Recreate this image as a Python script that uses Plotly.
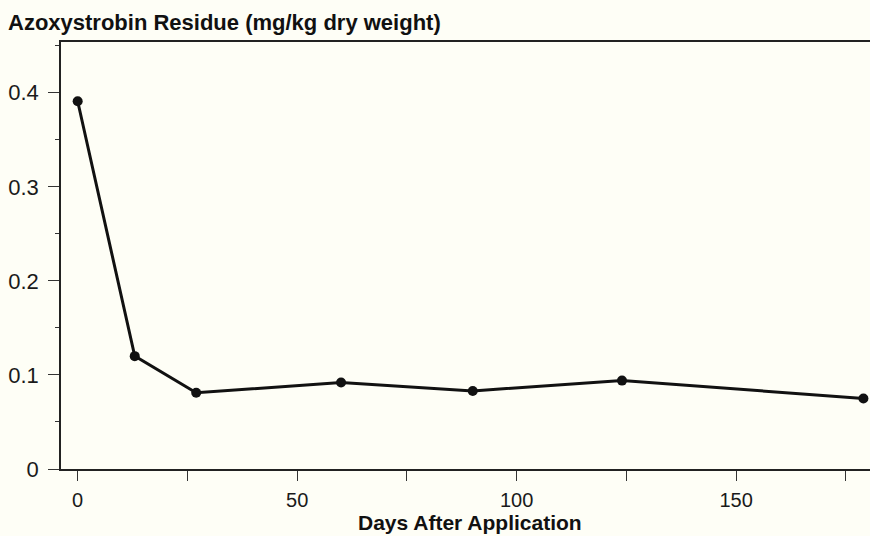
import plotly.graph_objects as go

# Azoxystrobin residue in soil over time
days = [0, 13, 27, 60, 90, 124, 179]
residue = [0.391, 0.120, 0.081, 0.092, 0.083, 0.094, 0.075]

x_tick_vals = [0, 25, 50, 75, 100, 125, 150, 175]
x_tick_text = ["0", "", "50", "", "100", "", "150", ""]
y_tick_vals = [0, 0.1, 0.2, 0.3, 0.4]
y_tick_text = ["0", "0.1", "0.2", "0.3", "0.4"]

W, H = 870, 536
L, R, T, B = 61, 0, 42, 67
bg = "#fefef6"
font = "Liberation Sans, Arial, sans-serif"

fig = go.Figure()
fig.add_trace(go.Scatter(
    x=days, y=residue, mode="lines+markers",
    line=dict(color="#111111", width=3),
    marker=dict(color="#111111", size=10),
    showlegend=False, cliponaxis=False,
))

fig.update_layout(
    width=W, height=H,
    margin=dict(l=L, r=R, t=T, b=B, pad=0),
    paper_bgcolor=bg, plot_bgcolor=bg,
    font=dict(family=font, color="#1a1a1a", size=21),
    title=dict(
        text="<b>Azoxystrobin Residue (mg/kg dry weight)</b>",
        x=8 / W, xanchor="left", y=1 - 22 / H, yanchor="middle",
        font=dict(family=font, size=22, color="#111111"),
    ),
    xaxis=dict(
        range=[-3.8, 180.5], showgrid=False, zeroline=False,
        showline=True, linecolor="#222222", linewidth=1.5, mirror=True,
        ticks="outside", ticklen=10, tickcolor="#333333", tickwidth=1.2,
        tickvals=x_tick_vals, ticktext=x_tick_text,
        tickfont=dict(family=font, size=20, color="#1a1a1a"),
        ticklabelstandoff=2,
    ),
    yaxis=dict(
        range=[0, 0.454], showgrid=False, zeroline=False,
        showline=True, linecolor="#222222", linewidth=1.5,
        ticks="outside", ticklen=11, tickcolor="#333333", tickwidth=1.2,
        tickvals=y_tick_vals, ticktext=y_tick_text,
        tickfont=dict(family=font, size=22, color="#1a1a1a"),
        ticklabelstandoff=5,
        minor=dict(dtick=0.05, tick0=0, ticks="outside", ticklen=4,
                   tickcolor="#333333", tickwidth=1.2),
    ),
    annotations=[dict(
        text="<b>Days After Application</b>",
        x=(470 - L) / (W - L - R), xref="paper", xanchor="center",
        y=-(536 - (H - B)) / (H - T - B), yref="paper", yanchor="bottom",
        showarrow=False, font=dict(family=font, size=21, color="#111111"),
    )],
)

fig.write_html("out.html")
